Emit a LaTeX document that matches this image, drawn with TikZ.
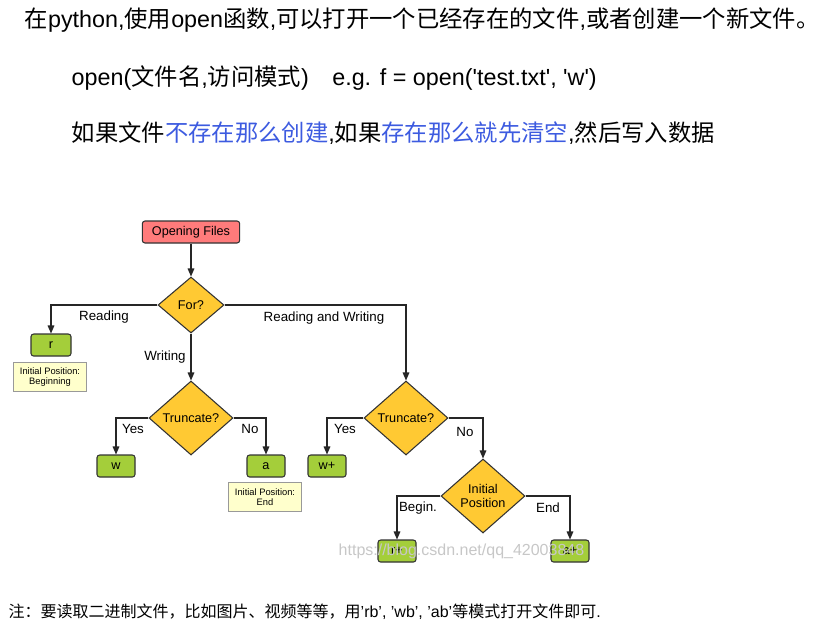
\documentclass[tikz,border=0pt]{standalone}
\usepackage{fontspec}
\setmainfont{Liberation Sans}
\newfontfamily\cjk{Noto Sans CJK SC}
\usetikzlibrary{shapes.geometric,arrows.meta}
\definecolor{redbox}{HTML}{FF7B7B}
\definecolor{yel}{HTML}{FFC933}
\definecolor{grn}{HTML}{A4CE3A}
\definecolor{note}{HTML}{FFFFCC}
\definecolor{bl}{HTML}{3D5BE0}
\newcommand{\sq}{\textquotesingle}
\begin{document}
\begin{tikzpicture}[x=0.75pt,y=-0.75pt,
  box/.style={draw=black!80,line width=0.8pt,rounded corners=2pt,font=\fontsize{9.5}{10}\selectfont,inner sep=0pt},
  dec/.style={diamond,draw=black!80,line width=0.8pt,fill=yel,inner sep=0pt,font=\fontsize{9.5}{10.5}\selectfont,align=center},
  gbox/.style={box,fill=grn,minimum width=28.5pt,minimum height=16.5pt},
  nt/.style={draw=black!40,fill=note,font=\fontsize{7}{8}\selectfont,align=center,inner sep=0pt,minimum width=55pt,minimum height=22pt},
  lab/.style={font=\fontsize{10}{11}\selectfont},
  ar/.style={-{Triangle[length=6pt,width=5pt]},line width=0.8pt,black!85},
  txt/.style={anchor=west,font=\fontsize{17.5}{19}\selectfont}]
\useasboundingbox (0,0) rectangle (838,633);
\node[txt] (t1) at (20,20) {{\cjk 在}python,{\cjk 使用}open{\cjk 函数},{\cjk 可以打开一个已经存在的文件},{\cjk 或者创建一个新文件}{\cjk 。}};
\node[txt] (t2) at (67,78) {open({\cjk 文件名},{\cjk 访问模式})\quad e.g. f = open(\sq test.txt\sq, \sq w\sq)};
\node[txt] (t3) at (67,133) {{\cjk 如果文件}{\cjk\color{bl}不存在那么创建},{\cjk 如果}{\cjk\color{bl}存在那么就先清空},{\cjk 然后写入数据}};
\node[anchor=west,font=\fontsize{12}{13}\selectfont] (t4) at (4,612) {{\cjk 注：要读取二进制文件，比如图片、视频等等，用}’rb’, ’wb’, ’ab’{\cjk 等模式打开文件即可}.};

\node[box,fill=redbox,minimum width=73pt,minimum height=16.5pt] (open) at (191,232) {Opening Files};
\node[dec,minimum width=49.5pt,minimum height=42pt] (for) at (191,305) {For?};
\node[gbox,minimum width=30pt] (r) at (51,345) {r};
\node[nt] (n1) at (50,377) {Initial Position:\\Beginning};
\node[dec,minimum width=63pt,minimum height=55.5pt] (tr1) at (191,418) {Truncate?};
\node[gbox] (w) at (116,466) {w};
\node[gbox] (a) at (266,466) {a};
\node[nt] (n2) at (265,497) {Initial Position:\\End};
\node[dec,minimum width=63pt,minimum height=55.5pt] (tr2) at (406,418) {Truncate?};
\node[gbox] (wp) at (327,466) {w+};
\node[dec,minimum width=63pt,minimum height=55.5pt] (ip) at (483,496) {Initial\\Position};
\node[gbox] (rp) at (397,551) {r+};
\node[gbox] (ap) at (570,551) {a+};

\draw[ar] (open) -- (for);
\draw[ar] (for.west) -| (r.north);
\draw[ar] (for.south) -- (tr1.north);
\draw[ar] (for.east) -| (tr2.north);
\draw[ar] (tr1.west) -| (w.north);
\draw[ar] (tr1.east) -| (a.north);
\draw[ar] (tr2.west) -| (wp.north);
\draw[ar] (tr2.east) -| (ip.north);
\draw[ar] (ip.west) -| (rp.north);
\draw[ar] (ip.east) -| (ap.north);

\node[lab] (l1) at (104,317) {Reading};
\node[lab] (l2) at (324,318) {Reading and Writing};
\node[lab] (l3) at (165,357) {Writing};
\node[lab] (l4) at (133,429) {Yes};
\node[lab] (l5) at (250,429) {No};
\node[lab] (l6) at (345,429) {Yes};
\node[lab] (l7) at (465,432) {No};
\node[lab] (l8) at (418,508) {Begin.};
\node[lab] (l9) at (548,508) {End};
\node[font=\fontsize{12}{13}\selectfont,text=black!22,anchor=west] (wm) at (334,551) {https://blog.csdn.net/qq\_42003848};
\end{tikzpicture}
\end{document}
